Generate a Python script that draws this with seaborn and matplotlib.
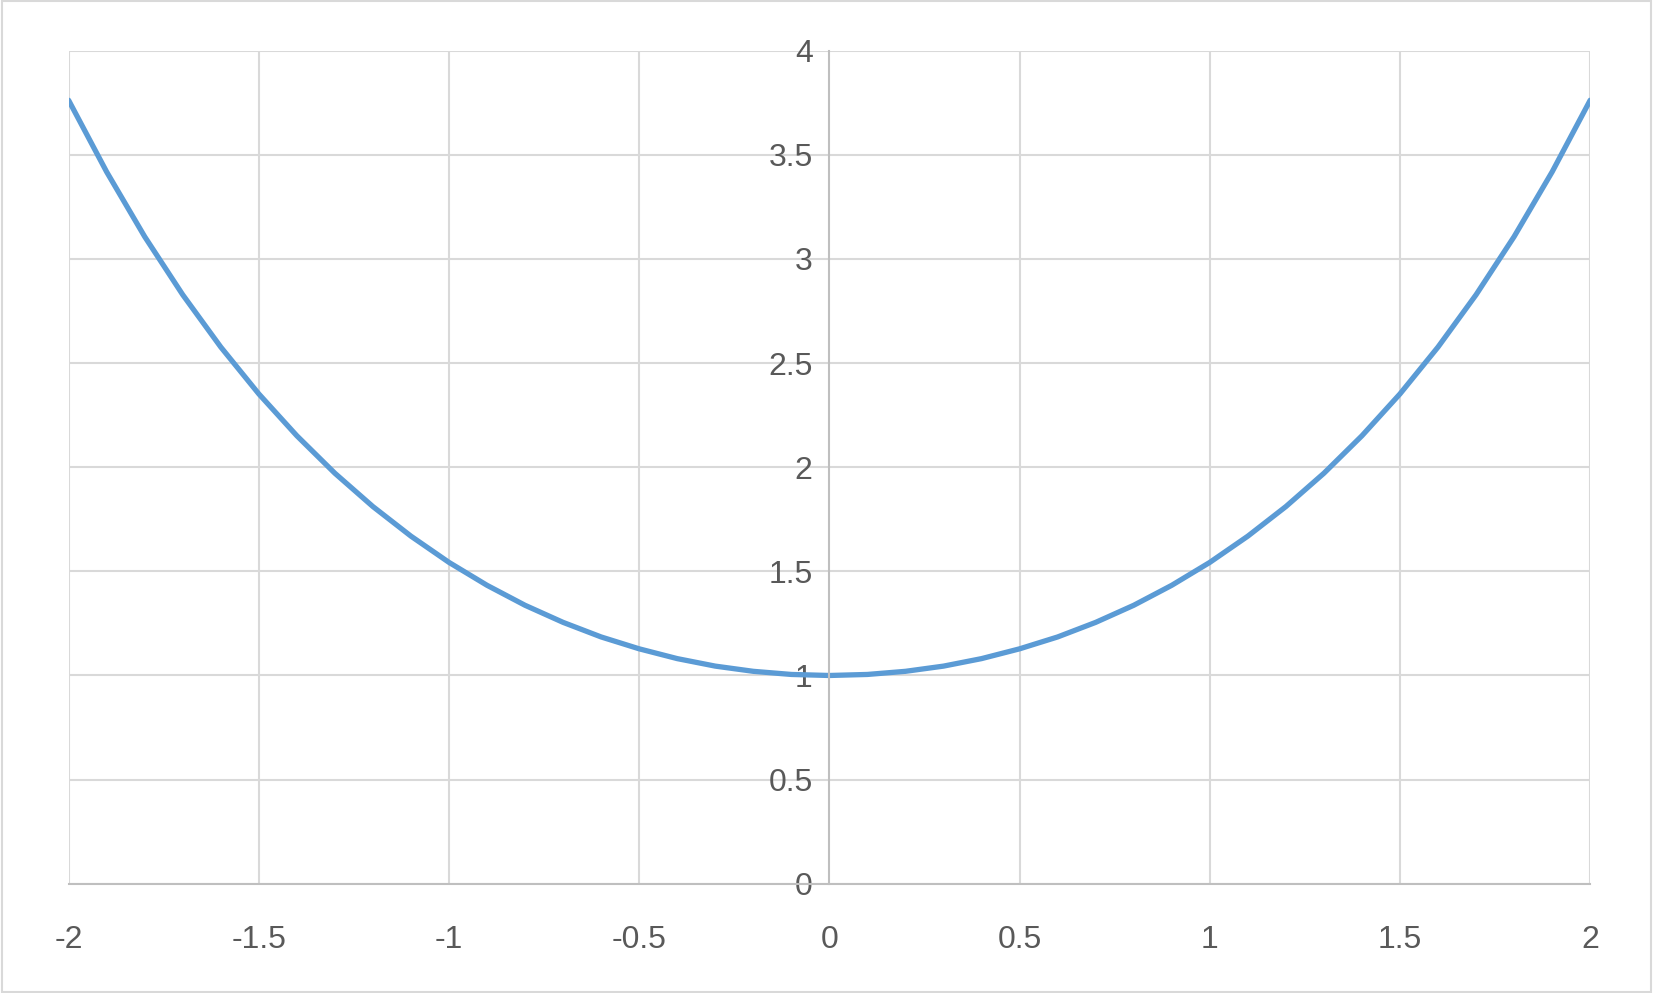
import matplotlib
matplotlib.use("Agg")
import matplotlib.pyplot as plt
import seaborn as sns
import pandas as pd

# values
x_vals = [-2.0, -1.9, -1.8, -1.7, -1.6, -1.5, -1.4, -1.3, -1.2, -1.1, -1.0,
          -0.9, -0.8, -0.7, -0.6, -0.5, -0.4, -0.3, -0.2, -0.1, 0.0,
          0.1, 0.2, 0.3, 0.4, 0.5, 0.6, 0.7, 0.8, 0.9, 1.0,
          1.1, 1.2, 1.3, 1.4, 1.5, 1.6, 1.7, 1.8, 1.9, 2.0]
half = [1.0, 1.005, 1.02, 1.045, 1.081, 1.128, 1.185, 1.255, 1.337, 1.433, 1.543,
        1.669, 1.811, 1.971, 2.151, 2.352, 2.577, 2.828, 3.107, 3.418, 3.762]
y_vals = half[::-1] + half[1:]
x_ticks = [-2, -1.5, -1, -0.5, 0, 0.5, 1, 1.5, 2]
y_ticks = [0, 0.5, 1, 1.5, 2, 2.5, 3, 3.5, 4]

sns.set_theme(style="white")
plt.rcParams["font.family"] = ["Liberation Sans", "DejaVu Sans"]

df = pd.DataFrame({"x": x_vals, "y": y_vals})
fig = plt.figure(figsize=(16.53, 9.93), dpi=100)
ax = fig.add_axes([0.0415, 0.11, 0.9205, 0.839])

for t in x_ticks:
    if t != 0:
        ax.axvline(t, color="#d9d9d9", lw=1.5, zorder=0)
for t in y_ticks:
    ax.axhline(t, color="#d9d9d9", lw=1.5, zorder=0)

sns.lineplot(data=df, x="x", y="y", ax=ax, color="#5b9bd5", lw=3.8,
             solid_joinstyle="round", solid_capstyle="round")

ax.set_xlim(-2, 2)
ax.set_ylim(0, 4)
ax.set_xticks(x_ticks)
ax.set_xticklabels([f"{t:g}" for t in x_ticks])
ax.set_yticks(y_ticks)
ax.set_yticklabels([f"{t:g}" for t in y_ticks])
ax.set_xlabel("")
ax.set_ylabel("")
for s in ["top", "right"]:
    ax.spines[s].set_visible(False)
ax.spines["left"].set_position(("data", 0))
ax.spines["left"].set_color("#bfbfbf")
ax.spines["left"].set_linewidth(1.5)
ax.spines["bottom"].set_color("#bfbfbf")
ax.spines["bottom"].set_linewidth(1.5)
ax.tick_params(axis="both", length=0, labelsize=23, colors="#595959")
ax.tick_params(axis="x", pad=30)
ax.tick_params(axis="y", pad=12)

fig.patches.append(plt.Rectangle((0.001, 0.001), 0.998, 0.998, transform=fig.transFigure,
                                 fill=False, edgecolor="#d9d9d9", lw=1.5))
fig.savefig("out.png", dpi=100)
